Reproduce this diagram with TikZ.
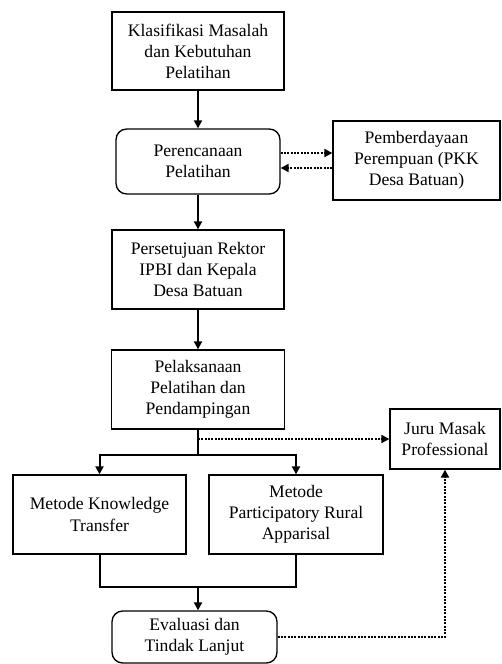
\documentclass[tikz,border=0pt]{standalone}
\usepackage{fontspec}
\setmainfont{Liberation Serif}
\usetikzlibrary{positioning, arrows.meta, calc}

\begin{document}
\begin{tikzpicture}[x=0.75pt, y=-0.75pt,
  box/.style={draw, line width=1pt, align=center, inner sep=0pt,
    font=\fontsize{13.2}{15.8}\selectfont},
  roundbox/.style={box, rounded corners=8pt},
  arr/.style={line width=1.5pt, -{Triangle[length=6pt,width=6pt]}},
  dotarr/.style={line width=1.5pt, dash pattern=on 1.4pt off 1.1pt,
    -{Triangle[length=6pt,width=6pt]}}]
  \clip (0,0) rectangle (501,664);
  \useasboundingbox (0,0) rectangle (501,664);

  % Main column
  \node[box, minimum width=172*0.75pt, minimum height=78*0.75pt] (klasifikasi) at (198,51)
    {Klasifikasi Masalah\\dan Kebutuhan\\Pelatihan};
  \node[roundbox, minimum width=164*0.75pt, minimum height=65*0.75pt] (perencanaan) at (198,161.5)
    {Perencanaan\\Pelatihan};
  \node[box, minimum width=172*0.75pt, minimum height=79*0.75pt] (persetujuan) at (198,269.5)
    {Persetujuan Rektor\\IPBI dan Kepala\\Desa Batuan};
  \node[box, minimum width=172.6*0.75pt, minimum height=79*0.75pt] (pelaksanaan) at (198,389.5)
    {Pelaksanaan\\Pelatihan dan\\Pendampingan};

  % Side boxes
  \node[box, minimum width=167*0.75pt, minimum height=79*0.75pt] (pkk) at (416.5,160.5)
    {Pemberdayaan\\Perempuan (PKK\\Desa Batuan)};
  \node[box, minimum width=110*0.75pt, minimum height=60*0.75pt] (juru) at (445,439)
    {Juru Masak\\Professional};

  % Methods
  \node[box, minimum width=173*0.75pt, minimum height=79*0.75pt] (knowledge) at (99.5,514.5)
    {Metode Knowledge\\Transfer};
  \node[box, minimum width=174*0.75pt, minimum height=79*0.75pt] (pra) at (296,514.5)
    {Metode\\Participatory Rural\\Apparisal};

  % Evaluation
  \node[roundbox, minimum width=165*0.75pt, minimum height=52*0.75pt] (evaluasi) at (194.5,637)
    {Evaluasi dan\\Tindak Lanjut};

  % Flow
  \draw[arr] (klasifikasi) -- (perencanaan);
  \draw[arr] (perencanaan) -- (persetujuan);
  \draw[arr] (persetujuan) -- (pelaksanaan);
  \draw[dotarr] ($(perencanaan.east)+(0,-8.5)$) -- ($(pkk.west)+(0,-7.5)$);
  \draw[dotarr] ($(pkk.west)+(0,7.5)$) -- ($(perencanaan.east)+(0,6.5)$);

  % Split to methods
  \coordinate (split) at ($(pelaksanaan.south)+(0,25)$);
  \coordinate (dotstart) at (pelaksanaan.south |- juru.west);
  \draw[line width=1.5pt] (pelaksanaan.south) -- (split);
  \draw[arr] (split) -| (knowledge.north);
  \draw[arr] (split) -| (pra.north);
  \draw[dotarr] (dotstart) -- (juru.west);

  % Merge to evaluation
  \coordinate (merge) at ($(knowledge.south)+(0,32)$);
  \draw[line width=1.5pt] (knowledge.south) -- (merge) -| (pra.south);
  \draw[arr] (merge -| pelaksanaan.south) -- (pelaksanaan.south |- evaluasi.north);
  \draw[dotarr] (evaluasi.east) -| (juru.south);
\end{tikzpicture}
\end{document}
